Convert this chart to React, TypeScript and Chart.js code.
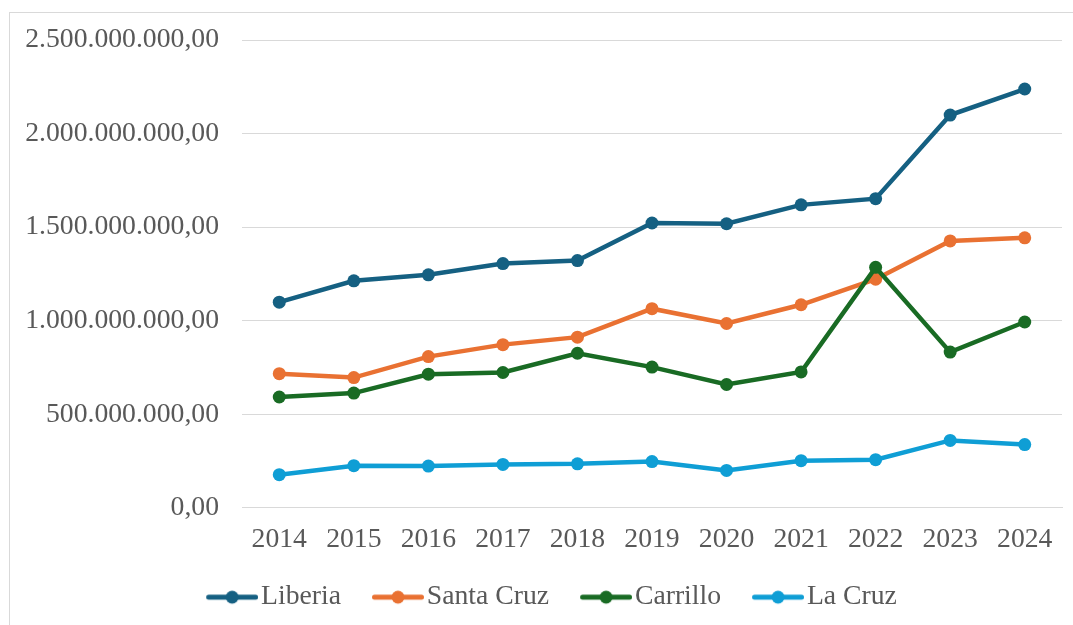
import React, { useEffect, useRef } from "react";
import { Chart, registerables } from "chart.js";

Chart.register(...registerables);

const years = ["2014", "2015", "2016", "2017", "2018", "2019", "2020", "2021", "2022", "2023", "2024"];
const liberia = [1099e6, 1213e6, 1245e6, 1305e6, 1321e6, 1522e6, 1518e6, 1619e6, 1652e6, 2099e6, 2238e6];
const santaCruz = [717e6, 696e6, 808e6, 872e6, 912e6, 1064e6, 985e6, 1085e6, 1222e6, 1426e6, 1443e6];
const carrillo = [592e6, 613e6, 714e6, 723e6, 826e6, 752e6, 659e6, 726e6, 1285e6, 832e6, 993e6];
const laCruz = [177e6, 225e6, 223e6, 232e6, 235e6, 247e6, 200e6, 252e6, 257e6, 360e6, 338e6];

const seriesNames = ["Liberia", "Santa Cruz", "Carrillo", "La Cruz"];
const seriesColors = ["#156082", "#E97132", "#196B24", "#0F9ED5"];
const seriesValues = [liberia, santaCruz, carrillo, laCruz];

const FONT = "'Liberation Serif', 'Times New Roman', serif";
const TEXT = "#595959";
const FS = 27.7;

function fmt(v: number): string {
  const s = Math.round(v).toString().replace(/\B(?=(\d{3})+(?!\d))/g, ".");
  return s + ",00";
}

function legendImage(color: string): HTMLCanvasElement {
  const c = document.createElement("canvas");
  c.width = 84;
  c.height = 16;
  const ctx = c.getContext("2d")!;
  ctx.strokeStyle = color;
  ctx.lineWidth = 5;
  ctx.lineCap = "round";
  ctx.beginPath();
  ctx.moveTo(34.5, 8);
  ctx.lineTo(81.5, 8);
  ctx.stroke();
  ctx.fillStyle = color;
  ctx.beginPath();
  ctx.arc(58, 8, 6.5, 0, Math.PI * 2);
  ctx.fill();
  return c;
}

export default function App() {
  const ref = useRef<HTMLCanvasElement>(null);
  useEffect(() => {
    if (!ref.current) return;
    const imgs = seriesColors.map(legendImage);
    const chart = new Chart(ref.current, {
      type: "line",
      data: {
        labels: years,
        datasets: seriesNames.map((name, i) => ({
          label: name,
          data: seriesValues[i],
          borderColor: seriesColors[i],
          backgroundColor: seriesColors[i],
          borderWidth: 4.5,
          pointRadius: 6.5,
          pointHoverRadius: 6.5,
          pointBorderWidth: 0,
          pointBackgroundColor: seriesColors[i],
          tension: 0,
          order: 4 - i,
        })),
      },
      options: {
        responsive: false,
        animation: false,
        layout: { padding: { left: 20, right: 11, top: 40, bottom: 4 } },
        plugins: {
          tooltip: { enabled: false },
          legend: {
            position: "bottom",
            labels: {
              usePointStyle: true,
              pointStyleWidth: 62,
              padding: 10,
              color: TEXT,
              font: { family: FONT, size: FS },
              generateLabels: () =>
                seriesNames.map((name, i) => ({
                  text: name,
                  fillStyle: seriesColors[i],
                  strokeStyle: seriesColors[i],
                  lineWidth: 0,
                  pointStyle: imgs[i],
                  hidden: false,
                  datasetIndex: i,
                  fontColor: TEXT,
                })),
            },
          },
        },
        scales: {
          x: {
            offset: true,
            grid: { display: false, drawTicks: false },
            border: { display: true, color: "#d9d9d9", width: 1 },
            ticks: { color: TEXT, font: { family: FONT, size: FS }, padding: 15, maxRotation: 0, autoSkip: false },
            afterFit: (s: any) => {
              s.height = 65.5;
            },
          },
          y: {
            min: 0,
            max: 2500000000,
            grid: { color: "#d9d9d9", lineWidth: 1, drawTicks: false },
            border: { display: false },
            ticks: {
              stepSize: 500000000,
              color: TEXT,
              font: { family: FONT, size: FS },
              padding: 23,
              callback: (v: any) => fmt(Number(v)),
            },
            afterFit: (s: any) => {
              s.width = 222;
            },
          },
        },
      },
    });
    return () => chart.destroy();
  }, []);
  return (
    <div style={{ position: "fixed", left: 0, top: 0, width: 1073, height: 625, overflow: "hidden", background: "#fff" }}>
      <div
        style={{
          position: "absolute",
          left: 8.5,
          top: 11.5,
          width: 1200,
          height: 800,
          border: "1.5px solid #d9d9d9",
        }}
      />
      <canvas ref={ref} width={1073} height={625} style={{ position: "absolute", left: 0, top: 0 }} />
    </div>
  );
}
